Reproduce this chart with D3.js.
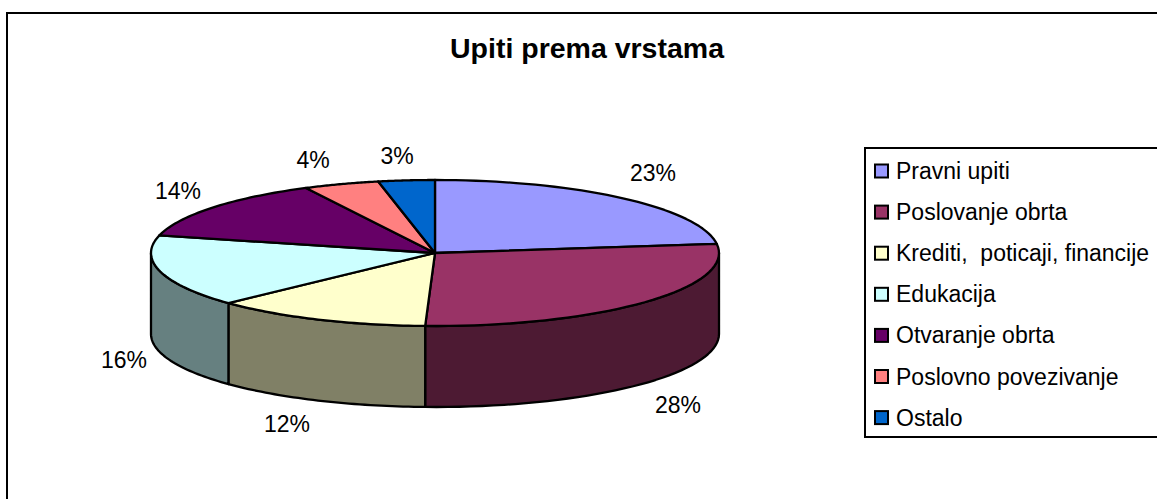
<!DOCTYPE html>
<html><head><meta charset="utf-8">
<script src="https://cdn.jsdelivr.net/npm/d3@7"></script>
<style>html,body{margin:0;padding:0;background:#fff}svg{display:block}text{font-family:"Liberation Sans",Arial,sans-serif;fill:#000;white-space:pre}</style>
</head><body><svg id="c" width="1157" height="499"></svg>
<script>
const title = "Upiti prema vrstama";
const categories = ["Pravni upiti","Poslovanje obrta","Krediti,  poticaji, financije","Edukacija","Otvaranje obrta","Poslovno povezivanje","Ostalo"];
const values = [23,27.5,12.4,15.9,13.6,4.3,3.2];
const labels = ["23%","28%","12%","16%","14%","4%","3%"];
const colors = ["#9999ff","#993366","#ffffcc","#ccffff","#660066","#ff8080","#0066cc"];
const sideColors = ["#4d4d80","#4d1a33","#808066","#668080","#330033","#804040","#003366"];
const labelPos = [[653,181],[678,413],[287,432],[124,368],[178,199],[313,168],[397,164]];

const cx=435,cy=253,rx=284,ry=73,depth=81;
const svg=d3.select("#c");
svg.append("rect").attr("x",7).attr("y",13).attr("width",1300).attr("height",600).attr("fill","#fff").attr("stroke","#000").attr("stroke-width",2);
svg.append("text").attr("x",587).attr("y",58).attr("text-anchor","middle").attr("font-size",28.5).attr("font-weight","bold").text(title);

const arcs=d3.pie().sort(null).value(d=>d)(values);
const px=a=>cx+rx*Math.sin(a), py=a=>cy-ry*Math.cos(a);
const ell=(a0,a1,dy=0)=>d3.range(0,41).map(i=>{const a=a0+(a1-a0)*i/40;return [px(a),py(a)+dy];});
const line=d3.line();
const g=svg.append("g").attr("stroke","#000").attr("stroke-width",2.3).attr("stroke-linejoin","round");
arcs.forEach((d,i)=>{
  const a0=Math.max(d.startAngle,Math.PI/2), a1=Math.min(d.endAngle,Math.PI*1.5);
  if(a1<=a0) return;
  const pts=ell(a0,a1).concat(ell(a0,a1,depth).reverse());
  g.append("path").attr("d",line(pts)+"Z").attr("fill",sideColors[i]);
});
arcs.forEach((d,i)=>{
  const pts=[[cx,cy]].concat(ell(d.startAngle,d.endAngle));
  g.append("path").attr("d",line(pts)+"Z").attr("fill",colors[i]);
});
labels.forEach((t,i)=>svg.append("text").attr("x",labelPos[i][0]).attr("y",labelPos[i][1]).attr("text-anchor","middle").attr("font-size",23).text(t));

const leg=svg.append("g");
leg.append("rect").attr("x",865).attr("y",148).attr("width",400).attr("height",289).attr("fill","#fff").attr("stroke","#000").attr("stroke-width",2);
categories.forEach((c,i)=>{
  const y=171+41.1*i;
  leg.append("rect").attr("x",875).attr("y",y-6.5).attr("width",13).attr("height",13).attr("fill",colors[i]).attr("stroke","#000").attr("stroke-width",2);
  leg.append("text").attr("x",896).attr("y",y+8).attr("font-size",23).text(c);
});
</script></body></html>
